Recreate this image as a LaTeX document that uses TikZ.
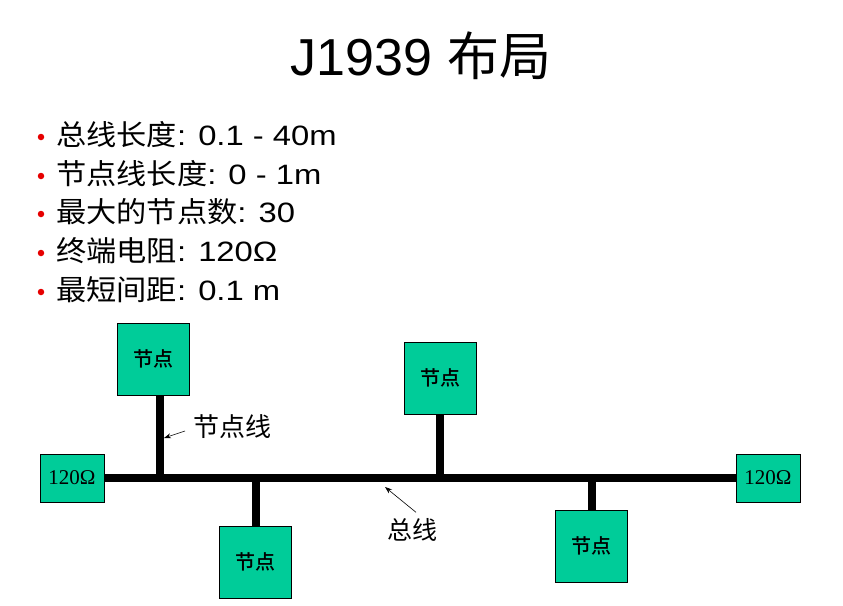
\documentclass[tikz,border=0pt]{standalone}
\usepackage{fontspec}
\setmainfont{Liberation Sans}
\newfontfamily\cjk{Noto Sans CJK SC}
\newfontfamily\cjkbold{Noto Sans CJK SC Medium}
\newfontfamily\cjkwide[FakeStretch=1.06]{Noto Sans CJK SC}
\newfontfamily\latwide[FakeStretch=1.17]{Liberation Sans}
\newfontfamily\serif{Liberation Serif}
\usetikzlibrary{arrows.meta}
\definecolor{nodegreen}{RGB}{0,204,153}
\definecolor{bulletred}{RGB}{230,0,0}
\tikzset{
  nodebox/.style={draw=black, line width=0.8pt, fill=nodegreen, minimum width=72pt, minimum height=72pt, inner sep=0pt, font=\cjkbold\fontsize{20}{20}\selectfont},
  termbox/.style={draw=black, line width=0.8pt, fill=nodegreen, minimum width=64pt, minimum height=48pt, inner sep=0pt, font=\serif\fontsize{21}{21}\selectfont},
  bus/.style={line width=8pt},
  callout/.style={-{Stealth[length=7pt,width=5pt]}, line width=0.6pt},
  bullettext/.style={anchor=west, inner sep=0pt, font=\latwide\fontsize{28}{28}\selectfont},
  bulletdot/.style={circle, fill=bulletred, inner sep=0pt, minimum size=6.5pt}
}
\newcommand{\zh}[1]{{\cjkwide\fontsize{28.5}{28.5}\selectfont #1}}
\begin{document}
\begin{tikzpicture}[x=1pt,y=-1pt]
\useasboundingbox (0,0) rectangle (843,605);
% title
\node[inner sep=0pt] (title) at (421,56) {\fontsize{52}{52}\selectfont J1939 {\cjk 布局}};
% bullets
\foreach \i/\y/\t in {1/135/{\zh{总线长度}: 0.1 - 40m},2/174/{\zh{节点线长度}: 0 - 1m},3/212/{\zh{最大的节点数}: 30},4/251/{\zh{终端电阻}: 120Ω},5/290/{\zh{最短间距}: 0.1 m}}{
  \node[bulletdot] (d\i) at (41,\y+2) {};
  \node[bullettext] (b\i) at (56,\y) {\t};
}
% boxes
\node[nodebox] (n1) at (153,359) {节点};
\node[nodebox] (n2) at (255,562) {节点};
\node[nodebox] (n3) at (440,378) {节点};
\node[nodebox] (n4) at (591,546) {节点};
\node[termbox] (tl) at (72,478) {120Ω};
\node[termbox] (tr) at (768,478) {120Ω};
% bus
\draw[bus] (tl.east) -- (tr.west);
\coordinate (j1) at (160,478);
\coordinate (j2) at (256,478);
\coordinate (j3) at (440,478);
\coordinate (j4) at (592,478);
\draw[bus] (j1) -- (j1 |- n1.south);
\draw[bus] (j2) -- (j2 |- n2.north);
\draw[bus] (j3) -- (j3 |- n3.south);
\draw[bus] (j4) -- (j4 |- n4.north);
% labels
\node[inner sep=0pt, anchor=west, font=\cjk\fontsize{26}{26}\selectfont] (stubl) at (193,427) {节点线};
\node[inner sep=0pt, font=\cjk\fontsize{25}{25}\selectfont] (busl) at (412,530) {总线};
\coordinate (a1) at (164,438);
\coordinate (a2) at (385,487);
\draw[callout] (stubl.west) ++(-8,4) -- (a1);
\draw[callout] (busl.north) ++(4,-6) -- (a2);
\end{tikzpicture}
\end{document}
